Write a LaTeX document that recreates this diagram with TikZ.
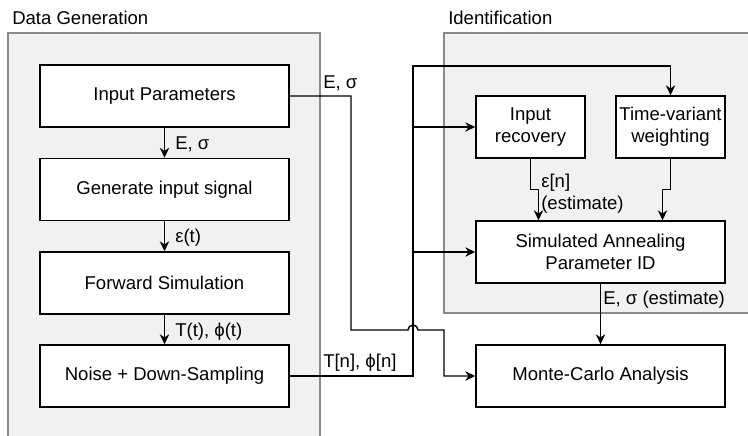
\documentclass[tikz,border=0pt]{standalone}
\usepackage{fontspec}
\setmainfont{Liberation Sans}
\usetikzlibrary{arrows.meta}
\definecolor{groupfill}{HTML}{F1F1F1}
\definecolor{groupline}{HTML}{8A8A8A}

\begin{document}
\begin{tikzpicture}[x=0.75pt, y=-0.75pt,
	every node/.style={font=\fontsize{13.9}{16.5}\selectfont},
	group/.style={fill=groupfill, draw=groupline, line width=1pt},
	block/.style={draw, line width=1.1pt, fill=white, minimum width=186.75pt, minimum height=46.5pt, inner sep=0pt, align=center},
	smallblock/.style={block, minimum width=81.75pt},
	lbl/.style={inner sep=0pt, align=left},
	wire/.style={line width=1.1pt},
	arr/.style={wire, -{Stealth[length=7.5pt, width=7pt]}}]
	\useasboundingbox (0,0) rectangle (748,435);

	% groups
	\draw[group] (8,33) rectangle (320,450);
	\draw[group] (444,33) rectangle (760,313);
	\node[lbl, anchor=base west] (dgtitle) at (12,25) {Data Generation};
	\node[lbl, anchor=base west] (idtitle) at (448,25) {Identification};

	% data generation chain
	\node[block] (inparam) at (164.5,96) {Input Parameters};
	\node[block] (gensig) at (164.5,189.5) {Generate input signal};
	\node[block] (fwdsim) at (164.5,283) {Forward Simulation};
	\node[block] (noise) at (164.5,376) {Noise + Down-Sampling};

	\draw[arr] (inparam) -- (gensig);
	\draw[arr] (gensig) -- (fwdsim);
	\draw[arr] (fwdsim) -- (noise);
	\node[lbl, anchor=west] (lblparam) at (175,144) {E, σ};
	\node[lbl, anchor=west] (lblsig) at (175,238) {ε(t)};
	\node[lbl, anchor=west] (lblsim) at (175,332) {T(t), ϕ(t)};

	% identification
	\node[smallblock] (inrec) at (530.5,127) {Input\\recovery};
	\node[smallblock] (tvweight) at (670.5,127) {Time-variant\\weighting};
	\node[block] (simann) at (600.5,252) {Simulated Annealing\\Parameter ID};
	\node[block] (montecarlo) at (600.5,376) {Monte-Carlo Analysis};

	\draw[arr] (inrec.south) -- ++(0,31) -| ([xshift=-46.5pt]simann.north);
	\draw[arr] (tvweight.south) -- ++(0,31) -| ([xshift=46.5pt]simann.north);
	\draw[arr] (simann) -- (montecarlo);
	\node[lbl, anchor=north west] (lblrec) at (541,174) {ε[n]\\(estimate)};
	\node[lbl, anchor=west] (lblest) at (603,300) {E, σ (estimate)};

	% measured data bus
	\coordinate (bus) at (413,66);
	\draw[arr] (noise.east) -| (bus) -| (tvweight.north);
	\draw[arr] (bus |- inrec.west) -- (inrec.west);
	\draw[arr] (bus |- simann.west) -- (simann.west);
	\node[lbl, anchor=west] (lblbus) at (323,363) {T[n], ϕ[n]};

	% true parameters to monte-carlo
	\draw[arr] (inparam.east) -- (351,96) -- (351,330) -- (408,330)
		arc[start angle=180, end angle=0, radius=3.75pt] -- (444,330) -- (444,376) -- (montecarlo.west);
	\node[lbl, anchor=west] (lbltrue) at (323,83) {E, σ};
\end{tikzpicture}
\end{document}
